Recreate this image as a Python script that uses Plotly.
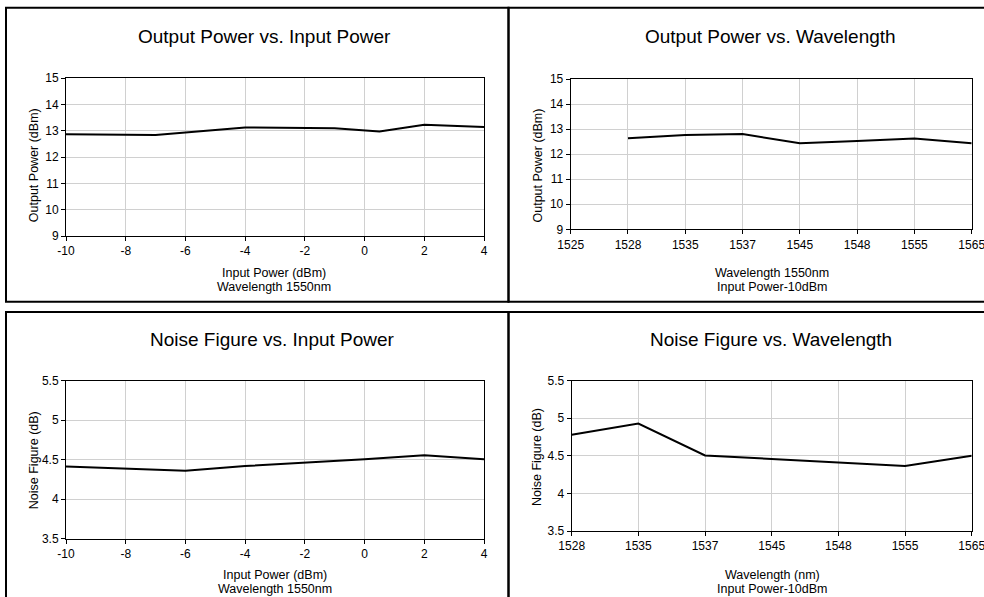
import plotly.graph_objects as go

W, H = 984, 597

# ---- data ----
op_input_x = [-10, -7, -4, -1, 0.5, 2, 4]
op_input_y = [12.86, 12.84, 13.12, 13.09, 12.97, 13.22, 13.14]

wl_categories_top = ["1525", "1528", "1535", "1537", "1545", "1548", "1555", "1565"]
op_wl_x = ["1528", "1535", "1537", "1545", "1548", "1555", "1565"]
op_wl_y = [12.63, 12.76, 12.80, 12.44, 12.52, 12.62, 12.44]

nf_input_x = [-10, -6, -4, -2, 0, 2, 4]
nf_input_y = [4.415, 4.36, 4.42, 4.46, 4.505, 4.555, 4.505]

wl_categories_bottom = ["1528", "1535", "1537", "1545", "1548", "1555", "1565"]
nf_wl_x = ["1528", "1535", "1537", "1545", "1548", "1555", "1565"]
nf_wl_y = [4.78, 4.93, 4.505, 4.455, 4.41, 4.365, 4.50]

input_ticks = [-10, -8, -6, -4, -2, 0, 2, 4]
input_ticktext = ["-10", "-8", "-6", "-4", "-2", "0", "2", "4"]

panel_titles = ["Output Power vs. Input Power", "Output Power vs. Wavelength",
                "Noise Figure vs. Input Power", "Noise Figure vs. Wavelength"]
x_titles = [["Input Power (dBm)", "Wavelength 1550nm"],
            ["Wavelength 1550nm", "Input Power-10dBm"],
            ["Input Power (dBm)", "Wavelength 1550nm"],
            ["Wavelength (nm)", "Input Power-10dBm"]]
y_titles = ["Output Power (dBm)", "Output Power (dBm)", "Noise Figure (dB)", "Noise Figure (dB)"]


def px(x):
    return x / W


def py(y):
    return 1 - y / H


FONT = "Arial, Liberation Sans, Helvetica, sans-serif"
GRID = "#d0d0d0"

fig = go.Figure()
for xs, ys, k in [(op_input_x, op_input_y, ""), (op_wl_x, op_wl_y, "2"),
                  (nf_input_x, nf_input_y, "3"), (nf_wl_x, nf_wl_y, "4")]:
    fig.add_trace(go.Scatter(x=xs, y=ys, mode="lines", line=dict(color="black", width=2),
                             xaxis="x" + k, yaxis="y" + k, hoverinfo="x+y"))

common = dict(showline=True, linecolor="black", linewidth=1, mirror=True,
              showgrid=True, gridcolor=GRID, gridwidth=1, zeroline=False,
              ticks="outside", ticklen=4, tickcolor="black", automargin=False,
              tickfont=dict(family=FONT, size=12, color="black"), fixedrange=True)

fig.update_layout(
    width=W, height=H, margin=dict(l=0, r=0, t=0, b=0),
    paper_bgcolor="white", plot_bgcolor="white", showlegend=False,
    font=dict(family=FONT, color="black"),
    xaxis=dict(domain=[px(66), px(484)], range=[-10, 4], tickvals=input_ticks,
               ticktext=input_ticktext, anchor="y", **common),
    yaxis=dict(domain=[py(236), py(78)], range=[9, 15], dtick=1, anchor="x", **common),
    xaxis2=dict(domain=[px(570.7), px(971.7)], type="category",
                categoryorder="array", categoryarray=wl_categories_top,
                range=[0, 7], anchor="y2", **common),
    yaxis2=dict(domain=[py(229.3), py(79)], range=[9, 15], dtick=1, anchor="x2", **common),
    xaxis3=dict(domain=[px(66), px(484)], range=[-10, 4], tickvals=input_ticks,
                ticktext=input_ticktext, anchor="y3", **common),
    yaxis3=dict(domain=[py(538.7), py(380.7)], range=[3.5, 5.5], dtick=0.5, anchor="x3", **common),
    xaxis4=dict(domain=[px(571.7), px(971.7)], type="category",
                categoryorder="array", categoryarray=wl_categories_bottom,
                range=[0, 6], anchor="y4", **common),
    yaxis4=dict(domain=[py(531), py(380.7)], range=[3.5, 5.5], dtick=0.5, anchor="x4", **common),
)

# panel titles
title_pos = [(264, 36), (770, 36), (272, 339), (771, 339)]
for t, (x, y) in zip(panel_titles, title_pos):
    fig.add_annotation(text=t, x=px(x), y=py(y), xref="paper", yref="paper",
                       showarrow=False, xanchor="center", yanchor="middle",
                       font=dict(family=FONT, size=19, color="black"))

# x-axis titles (two lines each)
xt_pos = [(274, 273, 287), (771.5, 273, 287), (274.5, 575, 589), (772, 575, 589)]
for lines, (x, y1, y2) in zip(x_titles, xt_pos):
    for txt, y in zip(lines, (y1, y2)):
        fig.add_annotation(text=txt, x=px(x), y=py(y), xref="paper", yref="paper",
                           showarrow=False, xanchor="center", yanchor="middle",
                           font=dict(family=FONT, size=12.5, color="black"))

# y-axis titles
yt_pos = [(33.7, 165.5), (537, 165.5), (33.7, 460.5), (537, 457)]
for txt, (x, y) in zip(y_titles, yt_pos):
    fig.add_annotation(text=txt, x=px(x), y=py(y), xref="paper", yref="paper",
                       showarrow=False, xanchor="center", yanchor="middle", textangle=-90,
                       font=dict(family=FONT, size=12.5, color="black"))

# panel borders
for (x0, y0, x1, y1) in [(6, 7.75, 508.5, 301.8), (508.5, 7.75, 995, 301.8),
                         (6, 312, 508.5, 610), (508.5, 312, 995, 610)]:
    fig.add_shape(type="rect", xref="paper", yref="paper",
                  x0=px(x0), x1=px(x1), y0=py(y1), y1=py(y0),
                  line=dict(color="black", width=2), layer="above")

fig.write_html("out.html", config={"displayModeBar": False},
               post_script="document.body.style.margin='0px';")
